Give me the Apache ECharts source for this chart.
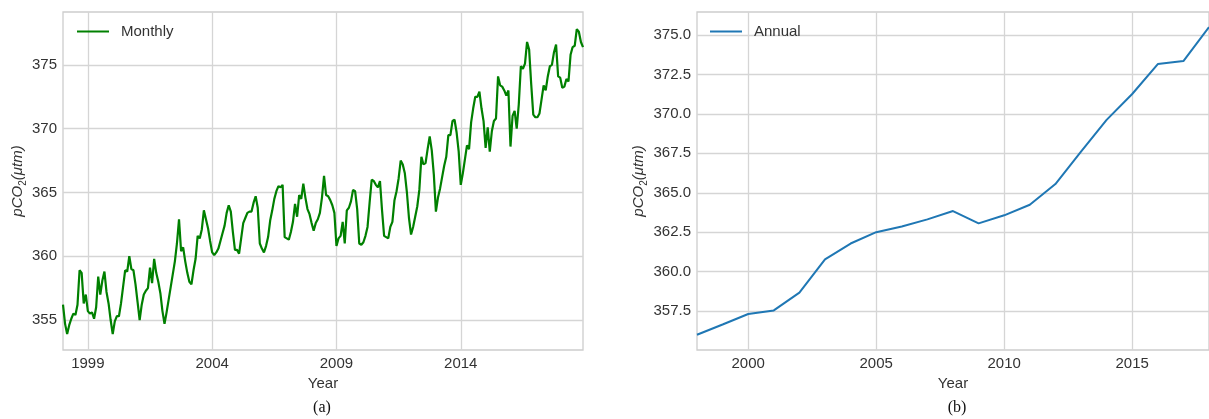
<!DOCTYPE html>
<html>
<head>
<meta charset="utf-8">
<script src="https://cdn.jsdelivr.net/npm/echarts@6/dist/echarts.min.js"></script>
<style>
  html, body { margin: 0; padding: 0; background: #ffffff; }
  #chart { width: 1209px; height: 419px; }
</style>
</head>
<body>
<div id="chart"></div>
<script>
// Monthly surface-water pCO2 (μatm), Jan 1998 – Dec 2018, one value per month
const monthlyPco2 = [
  356.2, 354.7, 353.9, 354.6, 355.1, 355.5, 355.4, 356.2, 358.9, 358.7, 356.3, 357.0, // 1998
  355.7, 355.5, 355.6, 355.1, 356.0, 358.4, 357.0, 358.1, 358.8, 357.2, 356.3, 355.0, // 1999
  353.9, 354.9, 355.3, 355.3, 356.3, 357.6, 358.9, 358.8, 360.0, 359.0, 358.9, 357.8, // 2000
  356.4, 355.0, 356.2, 357.0, 357.3, 357.5, 359.1, 357.9, 359.8, 358.7, 358.0, 357.1, // 2001
  355.7, 354.7, 355.6, 356.6, 357.6, 358.6, 359.6, 361.0, 362.9, 360.4, 360.7, 359.6, // 2002
  358.7, 358.0, 357.8, 358.9, 359.8, 361.6, 361.4, 362.1, 363.6, 362.9, 362.2, 361.2, // 2003
  360.3, 360.1, 360.3, 360.6, 361.2, 361.8, 362.4, 363.4, 364.0, 363.5, 361.9, 360.5, // 2004
  360.5, 360.2, 361.4, 362.6, 363.0, 363.4, 363.5, 363.5, 364.2, 364.7, 363.8, 361.0, // 2005
  360.6, 360.3, 360.8, 361.5, 362.8, 363.6, 364.5, 365.1, 365.5, 365.4, 365.6, 361.5, // 2006
  361.4, 361.3, 361.9, 362.7, 364.1, 363.1, 364.8, 364.5, 365.7, 364.6, 363.7, 363.3, // 2007
  362.6, 362.0, 362.6, 362.9, 363.4, 364.6, 366.3, 364.8, 364.7, 364.4, 364.0, 363.4, // 2008
  360.8, 361.4, 361.6, 362.7, 361.0, 363.6, 363.8, 364.3, 365.2, 365.1, 363.7, 361.0, // 2009
  360.9, 361.1, 361.6, 362.3, 364.2, 366.0, 365.9, 365.6, 365.4, 365.9, 363.6, 361.6, // 2010
  361.5, 361.4, 362.3, 362.7, 364.4, 365.1, 366.1, 367.5, 367.2, 366.5, 365.0, 363.0, // 2011
  361.7, 362.3, 363.1, 363.9, 365.2, 367.8, 367.2, 367.3, 368.4, 369.4, 368.3, 366.4, // 2012
  363.5, 364.6, 365.3, 366.2, 367.1, 367.8, 369.5, 369.5, 370.6, 370.7, 369.7, 368.2, // 2013
  365.6, 366.5, 367.6, 368.7, 368.4, 370.5, 371.6, 372.5, 372.5, 372.9, 371.6, 370.6, // 2014
  368.5, 370.1, 368.2, 369.8, 370.6, 370.8, 374.1, 373.4, 373.3, 373.0, 372.6, 373.0, // 2015
  368.6, 371.0, 371.4, 370.0, 371.9, 374.9, 374.7, 375.1, 376.8, 376.2, 373.5, 371.1, // 2016
  370.9, 370.9, 371.2, 372.3, 373.4, 373.0, 374.1, 374.9, 375.0, 376.0, 376.6, 374.1, // 2017
  374.0, 373.2, 373.3, 373.9, 373.7, 375.8, 376.4, 376.5, 377.8, 377.6, 376.8, 376.4  // 2018
];
const firstYear = 1998;
const lastYear = 2018;

// Annual means
const annualYears = [1998, 1999, 2000, 2001, 2002, 2003, 2004, 2005, 2006, 2007, 2008,
                     2009, 2010, 2011, 2012, 2013, 2014, 2015, 2016, 2017, 2018];
const annualPco2 = [356.0, 356.65, 357.31, 357.54, 358.67, 360.78, 361.78, 362.5, 362.86, 363.31, 363.84,
                    363.06, 363.57, 364.24, 365.55, 367.6, 369.62, 371.26, 373.16, 373.35, 375.5];

// Tick positions
const monthlyYearTicks = [1999, 2004, 2009, 2014];
const monthlyValueTicks = [355, 360, 365, 370, 375];
const annualYearTicks = [2000, 2005, 2010, 2015];
const annualValueTicks = [357.5, 360.0, 362.5, 365.0, 367.5, 370.0, 372.5, 375.0];

// Month categories "YYYY-MM"
const monthLabels = [];
for (let y = firstYear; y <= lastYear; y++) {
  for (let m = 1; m <= 12; m++) monthLabels.push(y + '-' + String(m).padStart(2, '0'));
}
const yearLabels = annualYears.map(String);

const FONT = '"Liberation Sans", Arial, Helvetica, sans-serif';
const TEXT = '#333333';
const GRID_COLOR = '#d5d5d5';

const isMonthlyTick = (i, v) => v.endsWith('-01') && monthlyYearTicks.includes(+v.slice(0, 4));
const isAnnualTick = (i, v) => annualYearTicks.includes(+v);

const yName = '{i|pCO}{s|2}{i|(μtm)}';
const yNameStyle = {
  color: TEXT,
  fontFamily: FONT,
  rich: {
    i: { fontSize: 15, fontStyle: 'italic', fontFamily: FONT, color: TEXT, lineHeight: 20 },
    s: { fontSize: 10, fontFamily: FONT, color: TEXT, verticalAlign: 'bottom' }
  }
};
const tickLabel = { color: TEXT, fontSize: 15, fontFamily: FONT };
const gridLine = { show: true, lineStyle: { color: GRID_COLOR, width: 1.3 } };

const chart = echarts.init(document.getElementById('chart'));

chart.setOption({
  animation: false,
  backgroundColor: '#ffffff',
  grid: [
    { left: 63, top: 12, right: 626, bottom: 69, show: true, borderColor: '#cdcdcd', borderWidth: 1.3 },
    { left: 697, top: 12, right: -7, bottom: 69, show: true, borderColor: '#cdcdcd', borderWidth: 1.3 }
  ],
  legend: [
    {
      data: ['Monthly'], left: 77, top: 24, padding: 0,
      icon: 'rect', itemWidth: 32, itemHeight: 2,
      textStyle: { color: TEXT, fontSize: 15, fontFamily: FONT, padding: [0, 0, 0, 7] }
    },
    {
      data: ['Annual'], left: 710, top: 24, padding: 0,
      icon: 'rect', itemWidth: 32, itemHeight: 2,
      textStyle: { color: TEXT, fontSize: 15, fontFamily: FONT, padding: [0, 0, 0, 7] }
    }
  ],
  xAxis: [
    {
      gridIndex: 0, type: 'category', data: monthLabels, boundaryGap: false,
      name: 'Year', nameLocation: 'middle', nameGap: 25,
      nameTextStyle: { color: TEXT, fontSize: 15, fontFamily: FONT },
      axisLine: { show: false }, axisTick: { show: false },
      axisLabel: { ...tickLabel, margin: 6, interval: isMonthlyTick, formatter: v => v.slice(0, 4) },
      splitLine: { ...gridLine, interval: isMonthlyTick }
    },
    {
      gridIndex: 1, type: 'category', data: yearLabels, boundaryGap: false,
      name: 'Year', nameLocation: 'middle', nameGap: 25,
      nameTextStyle: { color: TEXT, fontSize: 15, fontFamily: FONT },
      axisLine: { show: false }, axisTick: { show: false },
      axisLabel: { ...tickLabel, margin: 6, interval: isAnnualTick },
      splitLine: { ...gridLine, interval: isAnnualTick }
    }
  ],
  yAxis: [
    {
      gridIndex: 0, type: 'value', min: 352.65, max: 379.15,
      name: yName, nameLocation: 'middle', nameGap: 35, nameRotate: 90, nameTextStyle: yNameStyle,
      axisLine: { show: false },
      axisTick: { show: false, customValues: monthlyValueTicks },
      axisLabel: { ...tickLabel, margin: 6, customValues: monthlyValueTicks, formatter: v => String(v) },
      splitLine: gridLine
    },
    {
      gridIndex: 1, type: 'value', min: 355.03, max: 376.46,
      name: yName, nameLocation: 'middle', nameGap: 48, nameRotate: 90, nameTextStyle: yNameStyle,
      axisLine: { show: false },
      axisTick: { show: false, customValues: annualValueTicks },
      axisLabel: { ...tickLabel, margin: 6, customValues: annualValueTicks, formatter: v => v.toFixed(1) },
      splitLine: gridLine
    }
  ],
  series: [
    {
      name: 'Monthly', type: 'line', xAxisIndex: 0, yAxisIndex: 0,
      data: monthlyPco2, showSymbol: false, symbol: 'none',
      color: '#008000', lineStyle: { color: '#008000', width: 2.2 }
    },
    {
      name: 'Annual', type: 'line', xAxisIndex: 1, yAxisIndex: 1,
      data: annualPco2, showSymbol: false, symbol: 'none',
      color: '#1f77b4', lineStyle: { color: '#1f77b4', width: 2 }
    }
  ],
  graphic: [
    { type: 'text', x: 322, y: 408, style: { text: '(a)', fontSize: 16, fontFamily: '"Liberation Serif", "Times New Roman", serif', fill: '#111', align: 'center', verticalAlign: 'middle' } },
    { type: 'text', x: 957, y: 408, style: { text: '(b)', fontSize: 16, fontFamily: '"Liberation Serif", "Times New Roman", serif', fill: '#111', align: 'center', verticalAlign: 'middle' } }
  ]
});
</script>
</body>
</html>
